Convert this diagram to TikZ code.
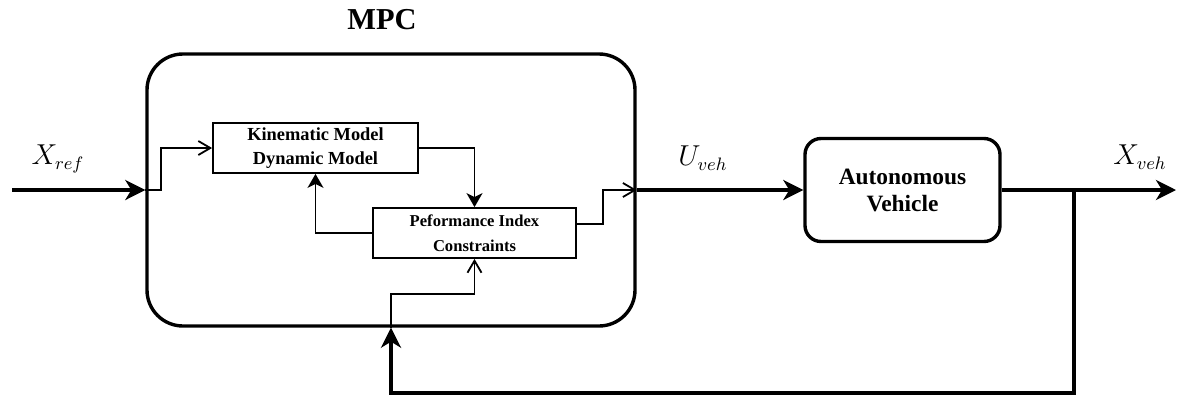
\documentclass[tikz,border=0pt]{standalone}
\usepackage{fontspec}
\setmainfont{Liberation Serif}
\usetikzlibrary{positioning,arrows.meta}
\tikzset{
	block/.style={draw=black, line width=0.9pt, minimum height=25pt, align=center, inner sep=1pt},
	plant/.style={draw=black, line width=1.7pt, rounded corners=8pt, minimum width=97.5pt, minimum height=51.5pt, align=center, font=\bfseries\fontsize{11.7}{13.5}\selectfont},
	signal/.style={line width=1.7pt, -{Stealth[length=10pt,width=10pt,inset=3pt]}},
	wire/.style={line width=0.9pt, -{Straight Barb[length=6pt,width=7pt]}},
	wirefill/.style={line width=0.9pt, -{Stealth[length=7pt,width=8pt,inset=2pt]}},
	sig/.style={font=\fontsize{13.5}{15}\selectfont}
}
\begin{document}
\begin{tikzpicture}[x=0.5pt,y=-0.5pt]
		\useasboundingbox (0,0) rectangle (1178,397);
		% controller with its two inner blocks
		\node[draw, line width=1.7pt, rounded corners=18pt, minimum width=244pt, minimum height=136pt] (mpc) at (391,190) {};
		\node[font=\bfseries\fontsize{15.2}{17}\selectfont] (mpctitle) at (382,20) {MPC};
		\node[block, minimum width=102.5pt, font=\bfseries\fontsize{9.2}{12}\selectfont] (model) at (315.5,148) {Kinematic Model\\Dynamic Model};
		\node[block, minimum width=101.5pt, font=\bfseries\fontsize{8.3}{12.5}\selectfont] (cost) at (474.5,233) {Peformance Index\\Constraints};
		
		\node[plant] (car) at (902.5,190) {Autonomous\\Vehicle};
		
		\coordinate (in) at (12,190);
		\coordinate (out) at (1176,190);
		\coordinate (split) at (1074,190);
		\coordinate (fb) at (1074,393);
		
		\node[sig] (xref) at (58,159) {$X_{ref}$};
		\node[sig] (uveh) at (703,158) {$U_{veh}$};
		\node[sig] (xveh) at (1140,157) {$X_{veh}$};
		
		\draw[signal] (in) -- (mpc.west);
		\draw[wire] (mpc.west) -- ++(16,0) |- (model.west);
		\draw[wirefill] (model.east) -| (cost.north);
		\draw[wirefill] (cost.west) -| (model.south);
		\draw[wire] ([yshift=4.5pt]cost.east) -- ++(26,0) |- (mpc.east);
		
		\draw[signal] (mpc.east) -- (car.west);
		\draw[signal] (car.east) -- (out);
		% feedback of the vehicle state
		\draw[signal] (split) -- (fb) -| (mpc.south);
		\draw[wire] (mpc.south) -- ++(0,-34) -| (cost.south);
	\end{tikzpicture}
\end{document}
